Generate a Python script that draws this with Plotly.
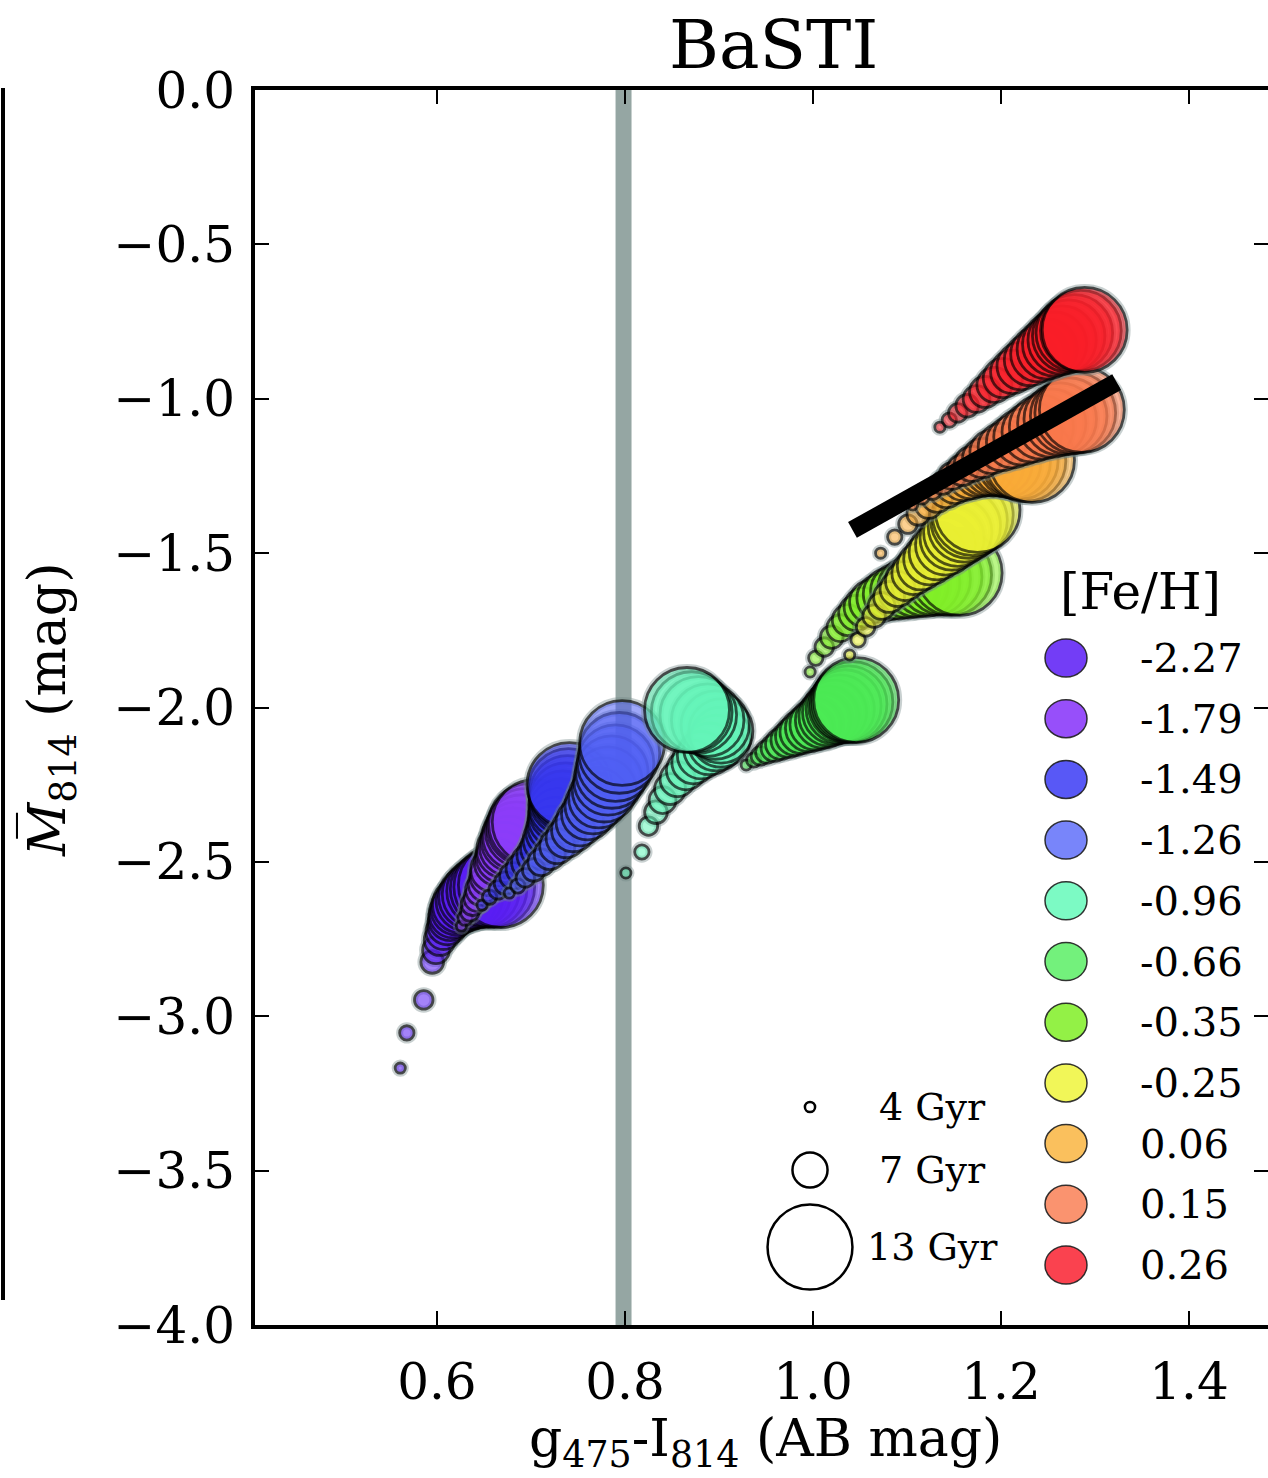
import plotly.graph_objects as go

# ---------------- data ----------------
ages = [4.0, 4.5, 5.0, 5.5, 6.0, 6.5, 7.0, 7.5, 8.0, 8.5, 9.0, 9.5, 10.0, 10.5, 11.0, 11.5, 12.0, 12.5, 13.0]

feh_labels = ["-2.27", "-1.79", "-1.49", "-1.26", "-0.96", "-0.66", "-0.35", "-0.25", "0.06", "0.15", "0.26"]

x_m227 = [0.561, 0.568, 0.586, 0.595, 0.599, 0.603, 0.607, 0.611, 0.614, 0.617, 0.621, 0.625, 0.631, 0.636, 0.642, 0.649, 0.655, 0.661, 0.668]
y_m227 = [-3.168, -3.054, -2.947, -2.824, -2.786, -2.753, -2.727, -2.705, -2.685, -2.669, -2.653, -2.640, -2.627, -2.614, -2.604, -2.594, -2.588, -2.581, -2.575]

x_m179 = [0.626, 0.630, 0.635, 0.638, 0.643, 0.647, 0.652, 0.656, 0.659, 0.665, 0.669, 0.672, 0.677, 0.681, 0.685, 0.690, 0.694, 0.698, 0.704]
y_m179 = [-2.708, -2.682, -2.662, -2.637, -2.617, -2.591, -2.572, -2.546, -2.526, -2.501, -2.484, -2.462, -2.449, -2.429, -2.416, -2.400, -2.387, -2.377, -2.371]

x_m149 = [0.648, 0.656, 0.665, 0.673, 0.681, 0.690, 0.698, 0.706, 0.712, 0.717, 0.722, 0.726, 0.729, 0.732, 0.734, 0.737, 0.739, 0.740, 0.741]
y_m149 = [-2.640, -2.614, -2.591, -2.569, -2.546, -2.523, -2.501, -2.478, -2.455, -2.429, -2.403, -2.381, -2.358, -2.335, -2.316, -2.297, -2.280, -2.264, -2.251]

x_m126 = [0.677, 0.686, 0.694, 0.703, 0.711, 0.720, 0.728, 0.737, 0.745, 0.752, 0.760, 0.766, 0.772, 0.778, 0.782, 0.786, 0.790, 0.794, 0.797]
y_m126 = [-2.601, -2.578, -2.552, -2.526, -2.501, -2.475, -2.449, -2.423, -2.397, -2.371, -2.345, -2.319, -2.293, -2.267, -2.238, -2.209, -2.180, -2.147, -2.115]

x_m096 = [0.801, 0.818, 0.825, 0.833, 0.840, 0.848, 0.856, 0.865, 0.873, 0.881, 0.890, 0.897, 0.902, 0.902, 0.896, 0.888, 0.878, 0.871, 0.866]
y_m096 = [-2.536, -2.468, -2.384, -2.339, -2.300, -2.264, -2.232, -2.203, -2.177, -2.154, -2.134, -2.115, -2.096, -2.076, -2.057, -2.041, -2.024, -2.015, -2.008]

x_m066 = [0.929, 0.937, 0.944, 0.951, 0.959, 0.966, 0.974, 0.981, 0.988, 0.996, 1.003, 1.011, 1.017, 1.023, 1.029, 1.034, 1.038, 1.042, 1.046]
y_m066 = [-2.186, -2.170, -2.157, -2.144, -2.131, -2.118, -2.105, -2.092, -2.079, -2.066, -2.054, -2.041, -2.028, -2.015, -2.005, -1.995, -1.989, -1.982, -1.976]

x_m035 = [0.997, 1.003, 1.012, 1.020, 1.029, 1.037, 1.046, 1.054, 1.062, 1.072, 1.081, 1.091, 1.101, 1.110, 1.120, 1.129, 1.139, 1.147, 1.156]
y_m035 = [-1.885, -1.840, -1.804, -1.772, -1.743, -1.717, -1.694, -1.675, -1.658, -1.645, -1.632, -1.623, -1.613, -1.603, -1.594, -1.584, -1.577, -1.571, -1.564]

x_m025 = [1.039, 1.048, 1.056, 1.065, 1.073, 1.081, 1.090, 1.098, 1.107, 1.115, 1.124, 1.132, 1.141, 1.148, 1.154, 1.161, 1.166, 1.170, 1.175]
y_m025 = [-1.830, -1.781, -1.739, -1.704, -1.671, -1.642, -1.616, -1.590, -1.564, -1.542, -1.519, -1.496, -1.474, -1.451, -1.432, -1.412, -1.393, -1.377, -1.360]

x_p006 = [1.072, 1.087, 1.101, 1.112, 1.123, 1.132, 1.142, 1.151, 1.160, 1.168, 1.177, 1.184, 1.192, 1.199, 1.206, 1.214, 1.220, 1.226, 1.233]
y_p006 = [-1.500, -1.448, -1.406, -1.373, -1.344, -1.318, -1.296, -1.276, -1.260, -1.247, -1.234, -1.224, -1.218, -1.211, -1.208, -1.205, -1.202, -1.202, -1.198]

x_p015 = [1.106, 1.116, 1.127, 1.138, 1.148, 1.159, 1.169, 1.180, 1.190, 1.201, 1.212, 1.222, 1.233, 1.243, 1.254, 1.263, 1.272, 1.279, 1.286]
y_p015 = [-1.344, -1.318, -1.296, -1.273, -1.250, -1.231, -1.211, -1.192, -1.172, -1.156, -1.140, -1.124, -1.108, -1.092, -1.079, -1.066, -1.056, -1.046, -1.036]

x_p026 = [1.135, 1.145, 1.154, 1.164, 1.174, 1.183, 1.193, 1.202, 1.212, 1.221, 1.231, 1.240, 1.249, 1.257, 1.265, 1.272, 1.278, 1.285, 1.289]
y_p026 = [-1.092, -1.069, -1.046, -1.023, -1.001, -0.978, -0.955, -0.933, -0.913, -0.894, -0.874, -0.855, -0.839, -0.823, -0.810, -0.797, -0.787, -0.780, -0.777]

# fitted relation (thick black line)
fit_x = [1.042, 1.323]
fit_y = [-1.425, -0.946]

# observed colour band (grey vertical strip)
band_x = [0.790, 0.807]

legend_ages = [4, 7, 13]
legend_age_labels = ["4 Gyr", "7 Gyr", "13 Gyr"]

# ---------------- styling ----------------
colors = [
    (90, 30, 245), (140, 60, 250), (55, 55, 240), (80, 95, 245),
    (100, 245, 185), (75, 235, 85), (130, 240, 40), (235, 240, 50),
    (250, 170, 55), (250, 120, 75), (250, 30, 40),
]
legend_colors = [
    (100, 40, 245), (140, 60, 250), (70, 70, 245), (105, 120, 250),
    (110, 250, 190), (100, 240, 110), (135, 240, 50), (240, 245, 70),
    (250, 185, 75), (250, 135, 95), (250, 45, 60),
]
FONT = "DejaVu Serif"

W, H = 1268, 1478
ML, MR, MT, MB = 255, 0, 90, 153
PW, PH = W - ML - MR, H - MT - MB


def px_x(p):
    return (p - ML) / PW


def px_y(p):
    return (H - MB - p) / PH


def age_size(a):
    return 8.3 * a - 23.0


tracks_x = [x_m227, x_m179, x_m149, x_m126, x_m096, x_m066, x_m035, x_m025, x_p006, x_p015, x_p026]
tracks_y = [y_m227, y_m179, y_m149, y_m126, y_m096, y_m066, y_m035, y_m025, y_p006, y_p015, y_p026]

fig = go.Figure()

sizes = [age_size(a) for a in ages]
for lab, xs, ys, c in zip(feh_labels, tracks_x, tracks_y, colors):
    # soft grey halo
    fig.add_trace(go.Scatter(
        x=xs, y=ys, mode="markers", showlegend=False, hoverinfo="skip",
        marker=dict(size=sizes, sizemode="diameter", color="rgba(0,0,0,0)",
                    line=dict(color="rgba(115,135,135,0.55)", width=7)),
    ))
    fig.add_trace(go.Scatter(
        x=xs, y=ys, mode="markers", name=lab, showlegend=False,
        marker=dict(size=sizes, sizemode="diameter",
                    color="rgba(%d,%d,%d,0.78)" % c,
                    line=dict(color="rgba(0,0,0,0.92)", width=2.8)),
        hoverinfo="skip",
    ))

fig.add_trace(go.Scatter(x=fit_x, y=fit_y, mode="lines", showlegend=False,
                         line=dict(color="black", width=18), hoverinfo="skip"))

# dummy trace for right-side ticks
fig.add_trace(go.Scatter(x=[None], y=[None], yaxis="y2", showlegend=False))

shapes = []
shapes.append(dict(type="rect", xref="x", yref="paper", x0=band_x[0], x1=band_x[1], y0=0, y1=1,
                   fillcolor="rgba(130,150,147,0.85)", line=dict(width=0), layer="below"))
# spine of neighbouring panel on the left
shapes.append(dict(type="line", xref="paper", yref="paper", x0=px_x(3), x1=px_x(3),
                   y0=px_y(1300), y1=px_y(88), line=dict(color="black", width=4)))

annotations = []
annotations.append(dict(text="BaSTI", xref="paper", yref="paper", x=px_x(773), y=px_y(45),
                        showarrow=False, font=dict(family=FONT, size=68, color="black"),
                        xanchor="center", yanchor="middle"))
annotations.append(dict(text="<i>M\u0305</i><sub>814</sub> (mag)", xref="paper", yref="paper",
                        x=px_x(50), y=px_y(710), textangle=-90, showarrow=False,
                        font=dict(family=FONT, size=52, color="black"),
                        xanchor="center", yanchor="middle"))
annotations.append(dict(text="g<sub>475</sub>-I<sub>814</sub> (AB mag)", xref="paper", yref="paper",
                        x=px_x(765), y=px_y(1442), showarrow=False,
                        font=dict(family=FONT, size=52, color="black"),
                        xanchor="center", yanchor="middle"))

# [Fe/H] legend
annotations.append(dict(text="[Fe/H]", xref="paper", yref="paper", x=px_x(1140), y=px_y(592),
                        showarrow=False, font=dict(family=FONT, size=50, color="black"),
                        xanchor="center", yanchor="middle"))
for i, (lab, c) in enumerate(zip(feh_labels, legend_colors)):
    yc = 658 + 60.7 * i
    shapes.append(dict(type="circle", xref="paper", yref="paper",
                       xsizemode="pixel", ysizemode="pixel",
                       xanchor=px_x(1066), yanchor=px_y(yc),
                       x0=-21, x1=21, y0=-19, y1=19,
                       fillcolor="rgba(%d,%d,%d,0.9)" % c,
                       line=dict(color="rgba(30,30,30,0.9)", width=1.5)))
    annotations.append(dict(text=lab, xref="paper", yref="paper", x=px_x(1138), y=px_y(yc),
                            showarrow=False, font=dict(family=FONT, size=40, color="black"),
                            xanchor="left", yanchor="middle"))

# age legend
age_rows = [1107, 1170, 1247]
for a, lab, yc in zip(legend_ages, legend_age_labels, age_rows):
    d = age_size(a)
    shapes.append(dict(type="circle", xref="paper", yref="paper",
                       xsizemode="pixel", ysizemode="pixel",
                       xanchor=px_x(810), yanchor=px_y(yc),
                       x0=-d / 2, x1=d / 2, y0=-d / 2, y1=d / 2,
                       fillcolor="rgba(0,0,0,0)", line=dict(color="black", width=2.5)))
    annotations.append(dict(text=lab, xref="paper", yref="paper", x=px_x(932), y=px_y(yc),
                            showarrow=False, font=dict(family=FONT, size=38, color="black"),
                            xanchor="center", yanchor="middle"))

axis_common = dict(showgrid=False, zeroline=False, ticks="inside", ticklen=14, tickwidth=2,
                   tickcolor="black", tickfont=dict(family=FONT, size=50, color="black"))

fig.update_layout(
    width=W, height=H,
    margin=dict(l=ML, r=MR, t=MT, b=MB, pad=0),
    paper_bgcolor="white", plot_bgcolor="rgba(0,0,0,0)",
    xaxis=dict(range=[0.4065, 1.484], tickvals=[0.6, 0.8, 1.0, 1.2, 1.4], tickformat=".1f",
               showline=True, linewidth=4, linecolor="black", mirror="ticks",
               ticklabelstandoff=10, **axis_common),
    yaxis=dict(range=[-4.0, 0.0], tickvals=[0.0, -0.5, -1.0, -1.5, -2.0, -2.5, -3.0, -3.5, -4.0],
               tickformat=".1f", showline=True, linewidth=4, linecolor="black",
               ticklabelstandoff=6, **axis_common),
    yaxis2=dict(range=[-4.0, 0.0], overlaying="y", side="right", anchor="x",
                tickvals=[0.0, -0.5, -1.0, -1.5, -2.0, -2.5, -3.0, -3.5, -4.0],
                showticklabels=False, showline=False, showgrid=False, zeroline=False,
                ticks="inside", ticklen=14, tickwidth=2, tickcolor="black"),
    shapes=shapes,
    annotations=annotations,
    showlegend=False,
)

fig.write_html("out.html")
